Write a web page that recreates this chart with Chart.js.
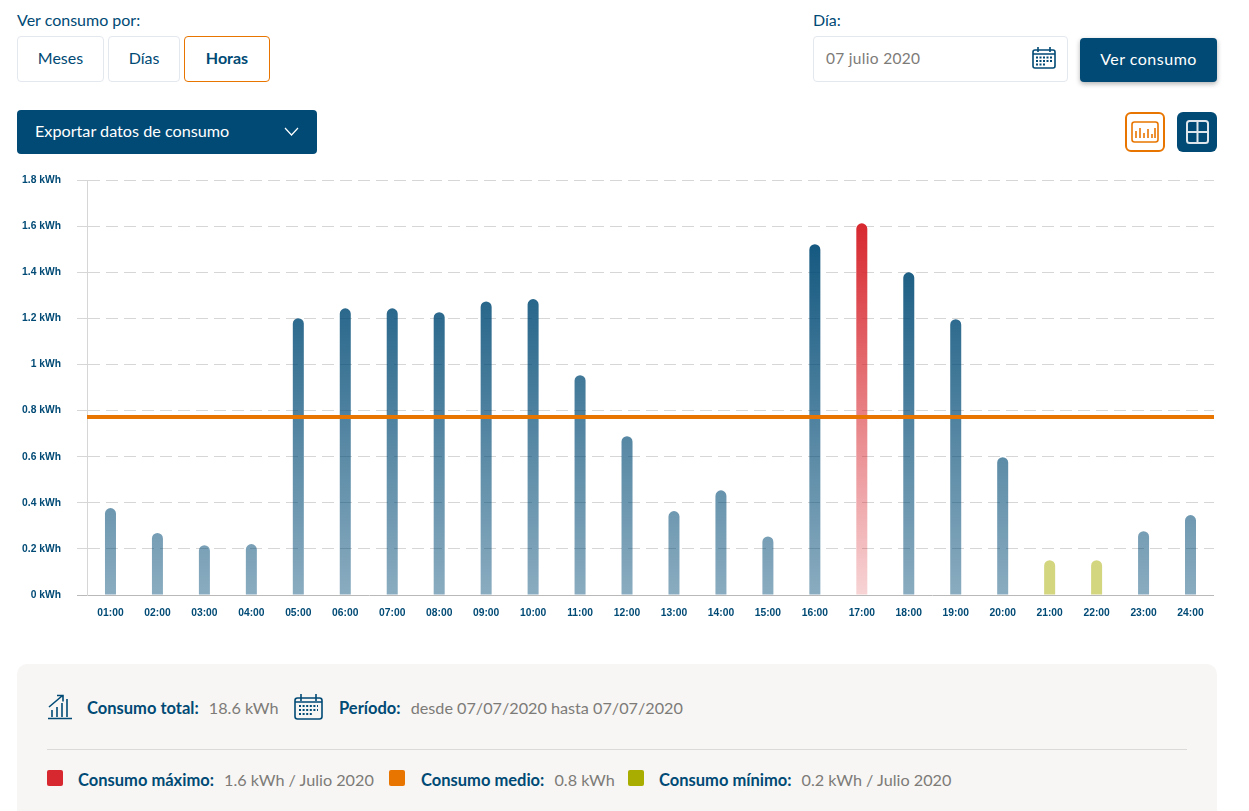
<!DOCTYPE html>
<html lang="es">
<head>
<meta charset="utf-8">
<title>Consumo</title>
<script src="https://cdn.jsdelivr.net/npm/chart.js@4"></script>
<style>
    * { box-sizing: border-box; }
    html, body { margin: 0; width: 1249px; height: 811px; overflow: hidden; background: #fff; }
    body { position: relative; font-family: "Lato", sans-serif; color: #004a75; }
    .abs { position: absolute; }
    .label { font-size: 16px; line-height: 18px; white-space: nowrap; }
    .tab { top: 36px; height: 46px; border: 1px solid #e3e8ee; border-radius: 4px; font-size: 16px; line-height: 42px; text-align: center; }
    .tab.active { border-color: #e87500; font-weight: 700; }
    .dateBox { left: 813px; top: 36px; width: 255px; height: 46px; border: 1px solid #e3e8ee; border-radius: 4px; padding-left: 12px; font-size: 15.5px; line-height: 42px; color: #7d7b78; letter-spacing: .3px; }
    .btn { background: #004a75; color: #fff; border-radius: 4px; }
    .verBtn { left: 1080px; top: 38px; width: 137px; height: 44px; font-size: 16px; line-height: 42px; text-align: center; box-shadow: 0 2px 5px rgba(0,0,0,.3); letter-spacing: .5px; }
    .exportBtn { left: 17px; top: 110px; width: 300px; height: 44px; font-size: 16.2px; line-height: 42px; padding-left: 18px; }
    #chartBox { left: 17px; top: 158px; width: 1200px; height: 472px; }
    .panel { left: 17px; top: 664px; width: 1200px; height: 160px; background: #f7f6f4; border-radius: 10px; }
    .rowText { font-size: 16.2px; line-height: 20px; white-space: nowrap; color: #7d7b78; }
    .rowText b { color: #004a75; font-size: 16.5px; font-weight: 700; margin-right: 6px; }
    .swatch { width: 16px; height: 16px; border-radius: 2px; top: 770px; }
    .rule { left: 47px; top: 749px; width: 1140px; height: 1px; background: #dcdad8; }
</style>
</head>
<body>
<div class="abs label" style="left:17px;top:11px">Ver consumo por:</div>
<div class="abs tab" style="left:17px;width:87px">Meses</div>
<div class="abs tab" style="left:108px;width:72px">Días</div>
<div class="abs tab active" style="left:184px;width:86px">Horas</div>

<div class="abs label" style="left:813px;top:11px">Día:</div>
<div class="abs dateBox">07 julio 2020</div>
<svg class="abs" style="left:1032px;top:47px" width="24" height="22" viewBox="0 0 24 22" fill="none" stroke="#004a75" stroke-width="1.6">
    <rect x="1" y="3" width="22" height="18" rx="2"/><path d="M1 7h22M6 0v5M18 0v5"/>
    <path d="M4 10.5h16M4 14h16M4 17.5h10" stroke-width="2" stroke-dasharray="2 1.5"/>
</svg>
<div class="abs btn verBtn">Ver consumo</div>

<div class="abs btn exportBtn">Exportar datos de consumo</div>
<svg class="abs" style="left:284px;top:127px" width="15" height="10" viewBox="0 0 15 10" fill="none" stroke="#fff" stroke-width="1.2"><path d="M1 1l6.5 7L14 1"/></svg>

<div class="abs" style="left:1125px;top:112px;width:40px;height:40px;border:2px solid #e87500;border-radius:6px"></div>
<svg class="abs" style="left:1131px;top:121px" width="28" height="22" viewBox="0 0 28 22" fill="none" stroke="#e87500">
    <rect x="1" y="1" width="26" height="20" rx="2.5" stroke-width="1.6"/>
    <path d="M5 17V10M9 17V7M13 17V12M17 17V8M21 17V13M24 17V7" stroke-width="1.6"/>
</svg>
<div class="abs" style="left:1177px;top:112px;width:40px;height:40px;background:#004a75;border-radius:6px"></div>
<svg class="abs" style="left:1186px;top:120px" width="23" height="24" viewBox="0 0 23 24" fill="none" stroke="#dfe7ec" stroke-width="2">
    <rect x="1" y="1" width="21" height="22" rx="2.5"/><path d="M11.5 1v22M1 12h21"/>
</svg>

<div class="abs" id="chartBox"><canvas id="hourlyChart"></canvas></div>

<div class="abs panel"></div>
<svg class="abs" style="left:47px;top:694px" width="26" height="26" viewBox="0 0 26 26" fill="none" stroke="#004a75" stroke-width="1.6">
    <path d="M1 24.5h24M5 23v-7M10 23v-10M15 23V9M20 23V5"/><path d="M2 13L15 2M10 1.5h6v6"/>
</svg>
<div class="abs rowText" style="left:87px;top:698px"><b>Consumo total:</b> 18.6 kWh</div>
<svg class="abs" style="left:294px;top:694px" width="29" height="26" viewBox="0 0 29 26" fill="none" stroke="#004a75" stroke-width="1.6">
    <rect x="1" y="4" width="27" height="21" rx="2.5"/><path d="M7 0v7M22 0v7M1 8h27"/>
    <path d="M5 12h19M5 16h19M5 20h13" stroke-width="2" stroke-dasharray="2 1.6"/>
</svg>
<div class="abs rowText" style="left:339px;top:698px"><b>Período:</b> desde 07/07/2020 hasta 07/07/2020</div>
<div class="abs rule"></div>
<div class="abs swatch" style="left:47px;background:#d7282f"></div>
<div class="abs rowText" style="left:78px;top:770px"><b>Consumo máximo:</b> 1.6 kWh / Julio 2020</div>
<div class="abs swatch" style="left:389px;background:#e87500"></div>
<div class="abs rowText" style="left:421px;top:770px"><b>Consumo medio:</b> 0.8 kWh</div>
<div class="abs swatch" style="left:628px;background:#a8ad00"></div>
<div class="abs rowText" style="left:659px;top:770px"><b>Consumo mínimo:</b> 0.2 kWh / Julio 2020</div>

<script>
const hours = ["01:00","02:00","03:00","04:00","05:00","06:00","07:00","08:00","09:00","10:00","11:00","12:00",
    "13:00","14:00","15:00","16:00","17:00","18:00","19:00","20:00","21:00","22:00","23:00","24:00"];
const consumo = [0.377,0.269,0.216,0.221,1.201,1.244,1.244,1.227,1.274,1.284,0.954,0.689,
    0.364,0.454,0.254,1.522,1.613,1.4,1.197,0.598,0.151,0.151,0.277,0.347];
const medio = 0.772;
const maximo = Math.max(...consumo);

const barColor = (context) => {
    const { chart, dataIndex } = context;
    const { ctx, chartArea, scales } = chart;
    if (!chartArea) return "#004a75";
    const value = consumo[dataIndex];
    if (value < 0.2) return "rgba(168,173,0,0.5)";
    let gradient;
    if (value === maximo) {
        gradient = ctx.createLinearGradient(0, scales.y.getPixelForValue(maximo), 0, chartArea.bottom);
        gradient.addColorStop(0, "rgba(215,40,47,1)");
        gradient.addColorStop(1, "rgba(215,40,47,0.2)");
    } else {
        gradient = ctx.createLinearGradient(0, chartArea.top, 0, chartArea.bottom);
        gradient.addColorStop(0, "rgba(0,74,117,1)");
        gradient.addColorStop(1, "rgba(0,74,117,0.46)");
    }
    return gradient;
};

new Chart(document.getElementById("hourlyChart"), {
    data: {
        labels: hours,
        datasets: [
            {
                type: "line",
                label: "Consumo medio",
                xAxisID: "xLine",
                data: [{ x: 0, y: medio }, { x: 1, y: medio }],
                borderColor: "#e87500",
                borderWidth: 4,
                pointRadius: 0,
                order: 0,
            },
            {
                type: "bar",
                label: "Consumo",
                xAxisID: "x",
                data: consumo,
                backgroundColor: barColor,
                borderRadius: { topLeft: 6, topRight: 6 },
                borderSkipped: false,
                grouped: false,
                categoryPercentage: 1,
                barPercentage: 0.2344,
                order: 1,
            },
        ],
    },
    options: {
        responsive: true,
        maintainAspectRatio: false,
        animation: false,
        layout: { padding: { top: 10.6, right: 3 } },
        plugins: { legend: { display: false }, tooltip: { enabled: false } },
        scales: {
            x: {
                grid: { display: false },
                border: { display: false },
                afterFit: (scale) => { scale.height = 35; },
                ticks: {
                    color: "#004a75",
                    font: { family: "Liberation Sans", size: 10.3, weight: "bold" },
                    maxRotation: 0,
                    autoSkip: false,
                    padding: 4,
                },
            },
            xLine: { type: "linear", display: false, min: 0, max: 1 },
            y: {
                min: 0,
                max: 1.8,
                afterFit: (scale) => { scale.width = 70; },
                border: {
                    display: true,
                    color: "#d6d6d6",
                    dash: (c) => (c.tick && c.tick.value === 0 ? [] : [12, 6]),
                },
                grid: {
                    color: (c) => (c.tick && c.tick.value === 0 ? "#b9b9b9" : "#d6d6d6"),
                    tickLength: 10,
                    drawTicks: true,
                },
                ticks: {
                    stepSize: 0.2,
                    padding: 16,
                    color: "#004a75",
                    font: { family: "Liberation Sans", size: 10.3, weight: "bold" },
                    callback: (v) => `${Math.round(v * 10) / 10} kWh`,
                },
            },
        },
    },
});
</script>
</body>
</html>
